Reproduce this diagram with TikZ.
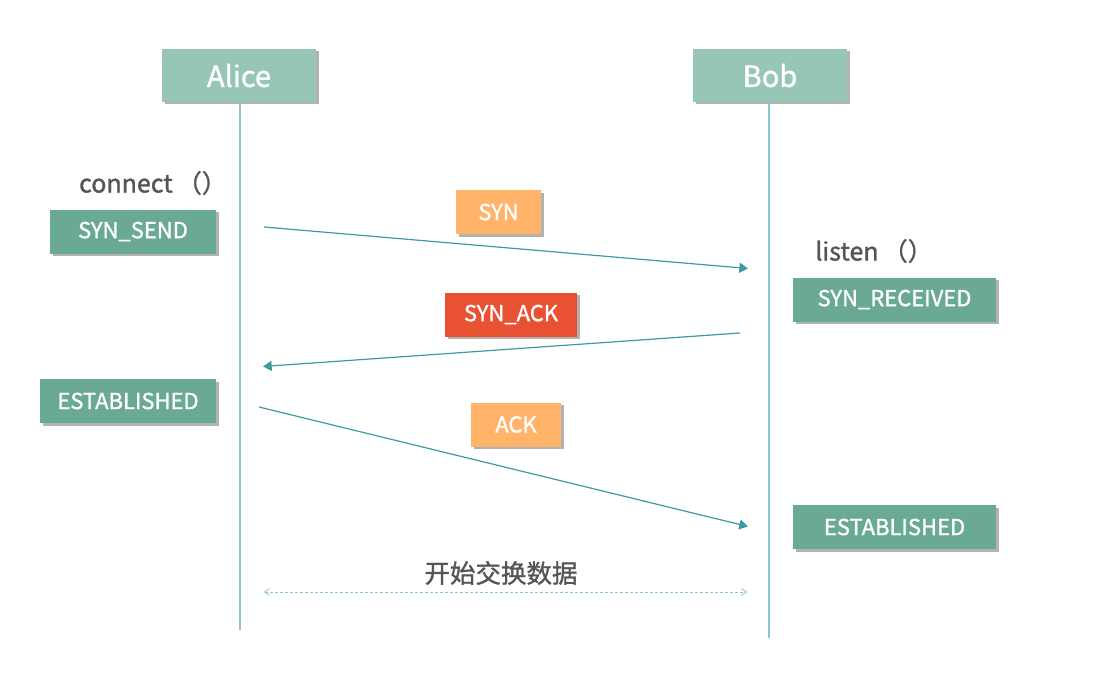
\documentclass[tikz,border=0pt]{standalone}
\usepackage{fontspec}
\setmainfont{Noto Sans CJK SC}[FakeBold=1.2]
\usepackage{xcolor}
\usetikzlibrary{arrows.meta,shadows}
\definecolor{headfill}{HTML}{98C6B4}
\definecolor{statefill}{HTML}{6AAA92}
\definecolor{synfill}{HTML}{FFB469}
\definecolor{ackred}{HTML}{E85232}
\definecolor{lifecol}{HTML}{8CC7CB}
\definecolor{msgcol}{HTML}{3E9A9F}
\definecolor{labelgray}{HTML}{555555}
\tikzset{%
  tipA/.tip={Triangle[angle=60:10pt]},
  tipB/.tip={Straight Barb[angle=70:6pt,line width=0.8pt]},
  box/.style={text=white, inner sep=0pt, minimum height=44pt,
    font=\fontsize{22}{25}\selectfont,
    drop shadow={shadow xshift=2.5pt,shadow yshift=-2.5pt,opacity=0.3,fill=black}},
  headbox/.style={box, fill=headfill, minimum width=154pt, minimum height=53pt,
    font=\fontsize{29}{32}\selectfont},
  statebox/.style={box, fill=statefill},
  msgbox/.style={box, fill=#1},
  lifeline/.style={lifecol, line width=1.4pt},
  msg/.style={msgcol, line width=1.2pt, -tipA},
  call/.style={text=labelgray, font=\fontsize{25}{28}\selectfont}
}

\begin{document}
\begin{tikzpicture}[x=1pt,y=-1pt]
\useasboundingbox (0,0) rectangle (1094,674);
% heads and lifelines
\node[headbox] (alice) at (239,75.5) {Alice};
\node[headbox] (bob) at (770,75.5) {Bob};
\coordinate (aliceEnd) at (240,630);
\coordinate (bobEnd) at (769,638);
\draw[lifeline] (alice.south -| aliceEnd) -- (aliceEnd);
\draw[lifeline] (bob.south -| bobEnd) -- (bobEnd);
% calls
\node[call] (connect) at (153,183) {connect\,（）};
\node[call] (listen) at (874,251) {listen\,（）};
% states
\node[statebox, minimum width=166pt] (synsend) at (133,231.5) {SYN\_SEND};
\node[statebox, minimum width=203pt] (synrecv) at (894.5,299.5) {SYN\_RECEIVED};
\node[statebox, minimum width=176pt] (estA) at (128,401) {ESTABLISHED};
\node[statebox, minimum width=203pt] (estB) at (894.5,527) {ESTABLISHED};
% packets
\node[msgbox=synfill, minimum width=85pt] (syn) at (498.5,212) {SYN};
\node[msgbox=ackred, minimum width=132pt] (synack) at (511,314.5) {SYN\_ACK};
\node[msgbox=synfill, minimum width=90pt] (ack) at (516,424.5) {ACK};
% handshake
\coordinate (m1s) at (264,227);
\coordinate (m1e) at (748,268.5);
\coordinate (m2s) at (740,333);
\coordinate (m2e) at (263,366.5);
\coordinate (m3s) at (259,407);
\coordinate (m3e) at (748,526.5);
\draw[msg] (m1s) -- (m1e);
\draw[msg] (m2s) -- (m2e);
\draw[msg] (m3s) -- (m3e);
% data
\node[text=labelgray, font=\fontsize{25.5}{28}\selectfont] (data) at (501,573) {开始交换数据};
\coordinate (d1) at (264,592);
\coordinate (d2) at (747,592);
\draw[lifecol, line width=1pt, dash pattern=on 3pt off 2pt, tipB-tipB] (d1) -- (d2);
\end{tikzpicture}
\end{document}
